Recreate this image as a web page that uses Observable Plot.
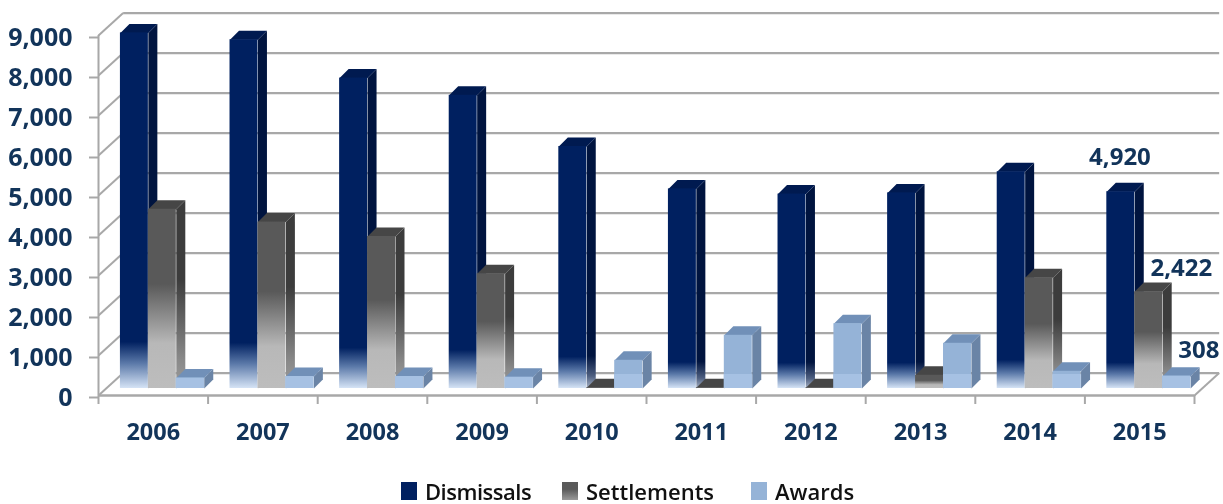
<!DOCTYPE html>
<html>
<head>
<meta charset="utf-8">
<script src="https://cdn.jsdelivr.net/npm/d3@7"></script>
<script src="https://cdn.jsdelivr.net/npm/@observablehq/plot@0.6"></script>
<style>
  html, body { margin: 0; padding: 0; background: #fff; overflow: hidden; }
  #chart svg { display: block; filter: blur(0.5px); }
  #legend { position: relative; height: 34px; font: 600 22px "Open Sans", sans-serif; color: #111; filter: blur(0.4px); }
  #legend span { position: absolute; top: 7px; line-height: 28px; white-space: nowrap; }
  #legend i { position: absolute; top: 12px; width: 16px; height: 18px; }
</style>
</head>
<body>
<div id="chart"></div>
<div id="legend">
  <i style="left:401px;background:#002060"></i><span style="left:425px;letter-spacing:-0.5px">Dismissals</span>
  <i style="left:562px;background:linear-gradient(#5a5a5a 40%,#9a9a9a)"></i><span style="left:586px">Settlements</span>
  <i style="left:751px;background:#95b3d7"></i><span style="left:775px">Awards</span>
</div>
<script>
const years = [2006, 2007, 2008, 2009, 2010, 2011, 2012, 2013, 2014, 2015];
const dismissals = [8890, 8720, 7760, 7330, 6050, 4990, 4860, 4890, 5420, 4920];
const settlements = [4480, 4160, 3800, 2870, 20, 20, 20, 330, 2770, 2422];
const awards = [260, 300, 300, 280, 705, 1330, 1620, 1130, 430, 308];
const yTicks = [0, 1000, 2000, 3000, 4000, 5000, 6000, 7000, 8000, 9000];
const catTicks = d3.range(0, years.length + 1);

// 3-D projection, expressed in the chart's own units
const wallX = 0.225, wallY = 560;   // depth of the floor
const barDX = 0.082, barDY = 225;   // depth of a bar
const baseY = 175;                  // front of the bars above the front of the floor
const barW = 0.255, barStart = 0.2;
const n = years.length;

const bars = (values, s) => values.map((v, i) => ({
  id: years[i], x1: i + barStart + s * barW, x2: i + barStart + (s + 1) * barW,
  y1: baseY, y2: baseY + v
}));
const side = (bs) => bs.flatMap(b => [
  {id: b.id, x: b.x2, y: b.y1},
  {id: b.id, x: b.x2 + barDX, y: b.y1 + barDY},
  {id: b.id, x: b.x2 + barDX, y: b.y2 + barDY},
  {id: b.id, x: b.x2, y: b.y2}
]);
const top_ = (bs) => bs.flatMap(b => [
  {id: b.id, x: b.x1, y: b.y2},
  {id: b.id, x: b.x1 + barDX, y: b.y2 + barDY},
  {id: b.id, x: b.x2 + barDX, y: b.y2 + barDY},
  {id: b.id, x: b.x2, y: b.y2}
]);
const poly = (pts, fill) => Plot.line(pts, {x: "x", y: "y", z: "id", fill, stroke: "none", curve: "linear-closed"});
const front = (bs, fill) => Plot.rect(bs, {x1: "x1", x2: "x2", y1: "y1", y2: "y2", fill});
const solid = (bs, sideFill, topFill, frontFill) => [poly(side(bs), sideFill), poly(top_(bs), topFill), front(bs, frontFill)];

const dBars = bars(dismissals, 0), sBars = bars(settlements, 1), aBars = bars(awards, 2);
const aLight = bars(awards.map(v => Math.min(v, 350)), 2);

const grid = "#a8a8a8";
const textColor = "#12345a";
const font = {fontFamily: "Open Sans", fontWeight: 700, fill: textColor};

const plot = Plot.plot({
  width: 1223, height: 470,
  marginLeft: 98, marginRight: 29, marginTop: 35, marginBottom: 75,
  x: {domain: [0, n], axis: null},
  y: {domain: [0, 9000], axis: null},
  style: {background: "#fff", overflow: "visible"},
  marks: [
    // back wall and left wall
    Plot.link(yTicks, {x1: wallX, x2: n + wallX, y1: d => d + wallY, y2: d => d + wallY, stroke: grid, strokeWidth: 2.2}),
    Plot.link(yTicks, {x1: 0, x2: wallX, y1: d => d, y2: d => d + wallY, stroke: grid, strokeWidth: 2}),
    // right edge of the floor
    Plot.link([0], {x1: n, x2: n + wallX, y1: 0, y2: wallY, stroke: grid, strokeWidth: 2}),
    // front axes
    Plot.ruleX([0], {y1: 0, y2: 9000, stroke: grid, strokeWidth: 2}),
    Plot.ruleY([0], {x1: 0, x2: n, stroke: grid, strokeWidth: 2.5}),
    Plot.axisY({ticks: yTicks, tickSize: 9, tickPadding: 17, tickFormat: d3.format(","), stroke: grid, strokeWidth: 2, fontSize: 25, dy: 2, label: null, ...font}),
    Plot.axisX({ticks: catTicks, tickSize: 9, tickFormat: () => "", stroke: grid, strokeWidth: 2, label: null}),
    Plot.text(years, {x: (d, i) => i + 0.5, y: 0, dy: 37, text: d => String(d), fontSize: 23.5, ...font}),
    // bars
    ...solid(dBars, "url(#dSide)", "#001a50", "url(#dFront)"),
    ...solid(sBars, "url(#sSide)", "#464646", "url(#sFront)"),
    ...solid(aBars, "#6a84a6", "#7190b8", "#95b3d7"),
    front(aLight, "#a6c1e3"),
    // value labels
    Plot.text([dismissals[9]], {x: 9.32, y: d => d, dy: -41, text: d3.format(","), fontSize: 24, ...font}),
    Plot.text([settlements[9]], {x: 9.88, y: d => d, dy: -30, text: d3.format(","), fontSize: 24, ...font}),
    Plot.text([awards[9]], {x: 10.04, y: d => d, dy: -33, text: d3.format(","), fontSize: 24, ...font})
  ]
});
plot.insertAdjacentHTML("afterbegin", `<defs>
  <linearGradient id="dFront" x1="0" y1="0" x2="0" y2="1">
    <stop offset="0.87" stop-color="#002060"/><stop offset="0.93" stop-color="#5a78a8"/><stop offset="1" stop-color="#d5e3f5"/>
  </linearGradient>
  <linearGradient id="dSide" x1="0" y1="0" x2="0" y2="1">
    <stop offset="0.87" stop-color="#00143f"/><stop offset="0.95" stop-color="#4e5f80"/><stop offset="1" stop-color="#a9b5c8"/>
  </linearGradient>
  <linearGradient id="sFront" x1="0" y1="0" x2="0" y2="1">
    <stop offset="0.42" stop-color="#595959"/><stop offset="0.75" stop-color="#b8b8b8"/><stop offset="1" stop-color="#bdbdbd"/>
  </linearGradient>
  <linearGradient id="sSide" x1="0" y1="0" x2="0" y2="1">
    <stop offset="0.42" stop-color="#3c3c3c"/><stop offset="0.85" stop-color="#8a8a8a"/><stop offset="1" stop-color="#9a9a9a"/>
  </linearGradient>
</defs>`);
document.getElementById("chart").append(plot);
</script>
</body>
</html>
